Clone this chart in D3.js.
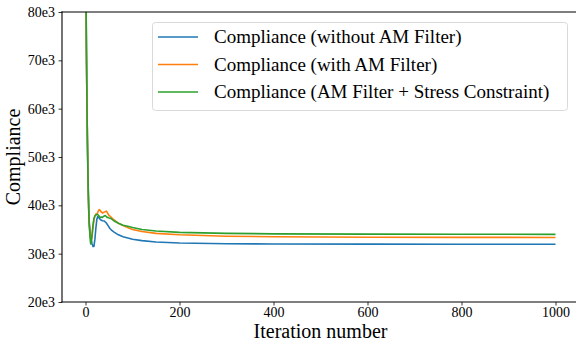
<!DOCTYPE html>
<html>
<head>
<meta charset="utf-8">
<script src="https://cdn.jsdelivr.net/npm/d3@7"></script>
<style>
  html, body { margin: 0; padding: 0; background: #fff; }
  svg { display: block; }
</style>
</head>
<body>
<svg id="chart" width="576" height="345"></svg>
<script>
// ---- data ----
const seriesNames = [
  "Compliance (without AM Filter)",
  "Compliance (with AM Filter)",
  "Compliance (AM Filter + Stress Constraint)"
];
const seriesColors = ["#1f77b4", "#ff7f0e", "#2ca02c"];

const itersBlue = [0,1,2,3,4,5,6,7,8,10,12,14,16,18,20,22,24,26,28,32,36,40,44,48,52,56,60,70,80,92,100,120,150,200,300,400,600,800,1000];
const blueValues = [120000,85000,72000,62000,54000,47500,42500,39000,36500,34300,33000,32000,31500,31500,33000,35200,37000,37700,37500,37000,36800,36750,36400,35800,35200,34800,34500,33900,33500,33200,33000,32700,32400,32200,32050,32000,31970,31950,31950];

const itersOrange = [0,1,2,3,4,5,6,7,8,10,12,14,16,18,20,22,24,26,28,30,32,34,36,38,40,42,44,46,48,50,54,58,62,70,80,92,100,120,150,200,300,400,600,800,1000];
const orangeValues = [120000,85000,72000,62000,54000,47500,42500,38500,36000,33600,32600,33500,35500,37000,37800,38200,38100,38500,39000,39100,38800,38600,38400,38500,38600,38700,38800,38600,38200,37900,37600,37200,36900,36300,35800,35300,35000,34600,34200,33900,33600,33500,33400,33380,33350];

const itersGreen = [0,1,2,3,4,5,6,7,8,10,11,12,14,16,18,20,22,24,26,28,30,32,34,36,38,40,42,44,46,48,50,54,58,62,70,80,92,100,120,150,200,300,400,600,800,1000];
const greenValues = [120000,85000,72000,62000,54000,47500,42500,38500,35800,33000,32000,32300,34000,36000,37300,37800,38000,38100,38100,37900,37600,37500,37600,37500,37700,37800,37900,37700,37500,37500,37400,37300,37000,36700,36300,35900,35600,35400,35000,34700,34400,34200,34100,34050,34020,34000];

const xTicks = [0, 200, 400, 600, 800, 1000];
const yTicks = [20000, 30000, 40000, 50000, 60000, 70000, 80000];
const yTickLabels = ["20e3", "30e3", "40e3", "50e3", "60e3", "70e3", "80e3"];
const xLabel = "Iteration number";
const yLabel = "Compliance";

const FONT = "'Liberation Serif', 'Times New Roman', serif";

// ---- layout ----
const svg = d3.select("#chart");
const plot = { left: 62, right: 579, top: 12, bottom: 302 };

const x = d3.scaleLinear().domain([-50, 1050]).range([plot.left, plot.right]);
const y = d3.scaleLinear().domain([20000, 80000]).range([plot.bottom, plot.top]);

svg.append("defs").append("clipPath").attr("id", "clip")
  .append("rect")
  .attr("x", plot.left).attr("y", plot.top)
  .attr("width", plot.right - plot.left).attr("height", plot.bottom - plot.top);

// lines
const series = [
  { iters: itersBlue, values: blueValues },
  { iters: itersOrange, values: orangeValues },
  { iters: itersGreen, values: greenValues }
];
const line = d3.line().x(d => x(d[0])).y(d => y(d[1]));
const gLines = svg.append("g").attr("clip-path", "url(#clip)");
series.forEach((s, i) => {
  const pts = s.iters.map((it, k) => [it, s.values[k]]);
  gLines.append("path")
    .datum(pts)
    .attr("d", line)
    .attr("fill", "none")
    .attr("stroke", seriesColors[i])
    .attr("stroke-width", 1.6)
    .attr("stroke-linejoin", "round");
});

// axes
const xAxis = d3.axisBottom(x).tickValues(xTicks).tickSize(3.5).tickPadding(1.5).tickFormat(d3.format("d"));
const gx = svg.append("g").attr("transform", `translate(0,${plot.bottom})`).call(xAxis);
gx.attr("font-family", FONT).attr("font-size", 14);
gx.select(".domain").remove();
gx.selectAll("line").attr("stroke", "#000").attr("stroke-width", 0.8);
gx.selectAll("text").style("font-size", "14px").style("font-family", FONT).attr("fill", "#000");

const yAxis = d3.axisLeft(y).tickValues(yTicks).tickSize(3.5).tickPadding(3.5)
  .tickFormat((d, i) => yTickLabels[i]);
const gy = svg.append("g").attr("transform", `translate(${plot.left},0)`).call(yAxis);
gy.attr("font-family", FONT).attr("font-size", 14);
gy.select(".domain").remove();
gy.selectAll("line").attr("stroke", "#000").attr("stroke-width", 0.8);
gy.selectAll("text").style("font-size", "14px").style("font-family", FONT).attr("fill", "#000");

// spines
[[plot.left, plot.top, plot.left, plot.bottom],
 [plot.left, plot.bottom, plot.right, plot.bottom],
 [plot.left, plot.top, plot.right, plot.top],
 [plot.right, plot.top, plot.right, plot.bottom]].forEach(s => {
  svg.append("line").attr("x1", s[0]).attr("y1", s[1]).attr("x2", s[2]).attr("y2", s[3])
    .attr("stroke", "#000").attr("stroke-width", 1.1).attr("stroke-linecap", "square");
});

// axis labels
svg.append("text")
  .attr("x", (plot.left + plot.right) / 2).attr("y", 337.5)
  .attr("text-anchor", "middle").style("font-size", "20px").style("font-family", FONT).attr("fill", "#000")
  .text(xLabel);
svg.append("text")
  .attr("transform", `translate(20,${(plot.top + plot.bottom) / 2}) rotate(-90)`)
  .attr("text-anchor", "middle").style("font-size", "20px").style("font-family", FONT).attr("fill", "#000")
  .text(yLabel);

// legend
const lg = svg.append("g");
lg.append("rect")
  .attr("x", 152.5).attr("y", 22.5).attr("width", 415).attr("height", 88)
  .attr("rx", 3).attr("fill", "#fff").attr("fill-opacity", 0.8)
  .attr("stroke", "#d9d9d9").attr("stroke-width", 1);
const rowY = [37, 64.5, 92];
seriesNames.forEach((name, i) => {
  lg.append("line")
    .attr("x1", 158).attr("x2", 198).attr("y1", rowY[i]).attr("y2", rowY[i])
    .attr("stroke", seriesColors[i]).attr("stroke-width", 1.6);
  lg.append("text")
    .attr("x", 214).attr("y", rowY[i]).attr("dy", "0.34em")
    .style("font-size", "19px").style("font-family", FONT).attr("fill", "#000")
    .text(name);
});
</script>
</body>
</html>
